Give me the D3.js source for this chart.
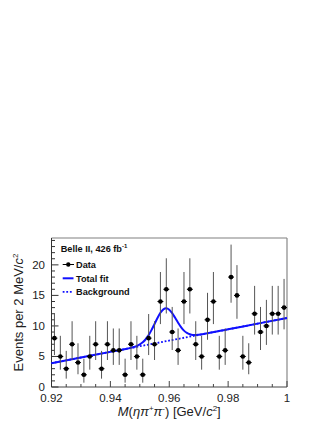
<!DOCTYPE html>
<html>
<head>
<meta charset="utf-8">
<script src="https://cdn.jsdelivr.net/npm/d3@7"></script>
<style>
  body { margin: 0; background: #fff; }
  svg { font-family: "Liberation Sans", Arial, Helvetica, sans-serif; }
</style>
</head>
<body>
<div id="chart"></div>
<script>
// histogram: 2 MeV bins from 0.92 to 1.00 GeV/c^2
var binStart = 0.92,
    binWidth = 0.002;
var counts = [8, 5, 3, 7, 4, 2, 5, 7, 3, 7,
              6, 6, 2, 7, 5, 2, 8, 7, 14, 16,
              9, 6, 14, 16, 7, 5, 11, 14, 5, 6,
              18, 15, 5, 4, 12, 9, 10, 12, 12, 13];

// Poisson (Garwood 68%) lower / upper limits, indexed by count
var poissonLo = [0, 0.173, 0.708, 1.367, 2.086, 2.840, 3.620, 4.419, 5.232, 6.057,
                 6.891, 7.734, 8.585, 9.441, 10.30, 11.17, 12.04, 12.92, 13.80];
var poissonHi = [1.841, 3.300, 4.638, 5.918, 7.163, 8.382, 9.584, 10.77, 11.95, 13.11,
                 14.27, 15.42, 16.56, 17.70, 18.83, 19.96, 21.08, 22.20, 23.32];

// fit curves
var fitX = [0.92, 0.93, 0.94, 0.946, 0.948, 0.949, 0.950, 0.951, 0.952, 0.953,
            0.954, 0.955, 0.956, 0.957, 0.958, 0.959, 0.960, 0.961, 0.962, 0.963,
            0.964, 0.965, 0.966, 0.967, 0.968, 0.969, 0.970, 0.972, 0.98, 0.99, 1.0];
var fitY = [3.90, 4.83, 5.75, 6.31, 6.55, 6.72, 6.97, 7.32, 7.82, 8.49,
            9.35, 10.32, 11.31, 12.15, 12.71, 12.89, 12.66, 12.09, 11.33, 10.53,
            9.80, 9.23, 8.85, 8.63, 8.53, 8.52, 8.57, 8.71, 9.45, 10.38, 11.30];
var bkgX = [0.92, 1.0];
var bkgY = [3.90, 11.30];

var xTicks = [0.92, 0.94, 0.96, 0.98, 1.0];
var xTickLabels = ["0.92", "0.94", "0.96", "0.98", "1"];
var yTicks = [0, 5, 10, 15, 20];

var W = 327, H = 423;
// plot frame (note: "top" is reserved on window)
var pL = 51.5, pR = 287, pT = 238, pB = 387;

var svg = d3.select("#chart").append("svg")
    .attr("width", W)
    .attr("height", H);

var x = d3.scaleLinear().domain([0.92, 1.0]).range([pL, pR]);
var y = d3.scaleLinear().domain([0, 24.4]).range([pB, pT]);

var blue = "#1010ff";

// frame: top and right in grey
svg.append("line").attr("x1", pL).attr("x2", pR).attr("y1", pT).attr("y2", pT)
    .style("stroke", "#aaa").style("stroke-width", 1.3);
svg.append("line").attr("x1", pR).attr("x2", pR).attr("y1", pT).attr("y2", pB)
    .style("stroke", "#888").style("stroke-width", 1.2);

// x axis with inward ticks
var xAxis = svg.append("g");
xAxis.append("line").attr("x1", pL).attr("x2", pR).attr("y1", pB).attr("y2", pB)
    .style("stroke", "#444").style("stroke-width", 1);
d3.range(0, 17).forEach(function(i) {
    var v = 0.92 + i * 0.005;
    var major = (i % 4 == 0);
    xAxis.append("line")
        .attr("x1", x(v)).attr("x2", x(v))
        .attr("y1", pB).attr("y2", pB - (major ? 6 : 3))
        .style("stroke", "#444").style("stroke-width", 1);
});
xAxis.selectAll("text.xt")
    .data(xTicks)
    .enter()
    .append("text")
    .attr("class", "xt")
    .attr("x", function(d) { return x(d); })
    .attr("y", 402)
    .attr("text-anchor", "middle")
    .style("font-size", "11.5px")
    .style("fill", "#222")
    .text(function(d, i) { return xTickLabels[i]; });

// y axis
var yAxis = svg.append("g");
yAxis.append("line").attr("x1", pL).attr("x2", pL).attr("y1", pT).attr("y2", pB)
    .style("stroke", "#333").style("stroke-width", 1);
d3.range(0, 25).forEach(function(v) {
    var major = (v % 5 == 0);
    yAxis.append("line")
        .attr("x1", pL).attr("x2", pL + (major ? 7 : 3.5))
        .attr("y1", y(v)).attr("y2", y(v))
        .style("stroke", "#333").style("stroke-width", 1);
});
yAxis.selectAll("text.yt")
    .data(yTicks)
    .enter()
    .append("text")
    .attr("class", "yt")
    .attr("x", 45)
    .attr("y", function(d) { return y(d) + 3.8; })
    .attr("text-anchor", "end")
    .style("font-size", "11.5px")
    .style("fill", "#222")
    .text(function(d) { return d; });

// axis titles
var xt = svg.append("text")
    .attr("x", (pL + pR) / 2)
    .attr("y", 416)
    .attr("text-anchor", "middle")
    .style("font-size", "13px")
    .style("fill", "#222");
xt.append("tspan").style("font-style", "italic").text("M");
xt.append("tspan").text("(");
xt.append("tspan").style("font-style", "italic").text("ηπ");
xt.append("tspan").attr("dy", -5).style("font-size", "8px").text("+");
xt.append("tspan").attr("dy", 5).style("font-style", "italic").text("π");
xt.append("tspan").attr("dy", -5).style("font-size", "8px").text("-");
xt.append("tspan").attr("dy", 5).text(") [GeV/");
xt.append("tspan").style("font-style", "italic").text("c");
xt.append("tspan").attr("dy", -5).style("font-size", "8px").text("2");
xt.append("tspan").attr("dy", 5).text("]");

var yt = svg.append("text")
    .attr("transform", "translate(23," + ((pT + pB) / 2) + ") rotate(-90)")
    .attr("text-anchor", "middle")
    .style("font-size", "13px")
    .style("fill", "#222");
yt.append("tspan").text("Events per 2 MeV/");
yt.append("tspan").style("font-style", "italic").text("c");
yt.append("tspan").attr("dy", -5).style("font-size", "8px").text("2");

// fit curves
var line = d3.line()
    .x(function(d) { return x(d[0]); })
    .y(function(d) { return y(d[1]); });

svg.append("path")
    .datum(d3.zip(bkgX, bkgY))
    .attr("d", line)
    .style("fill", "none")
    .style("stroke", blue)
    .style("stroke-width", 1.8)
    .style("stroke-dasharray", "1.8,1.8");

svg.append("path")
    .datum(d3.zip(fitX, fitY))
    .attr("d", line.curve(d3.curveMonotoneX))
    .style("fill", "none")
    .style("stroke", blue)
    .style("stroke-width", 2);

// data points with Poisson error bars
var data = counts.map(function(n, i) {
    return { x: binStart + (i + 0.5) * binWidth, n: n, lo: poissonLo[n], hi: poissonHi[n] };
});

var pts = svg.selectAll("g.pt")
    .data(data)
    .enter()
    .append("g")
    .attr("class", "pt");

pts.append("line")
    .attr("x1", function(d) { return x(d.x); })
    .attr("x2", function(d) { return x(d.x); })
    .attr("y1", function(d) { return y(d.lo); })
    .attr("y2", function(d) { return y(d.hi); })
    .style("stroke", "#555")
    .style("stroke-width", 1);

pts.append("line")
    .attr("x1", function(d) { return x(d.x - binWidth / 2); })
    .attr("x2", function(d) { return x(d.x + binWidth / 2); })
    .attr("y1", function(d) { return y(d.n); })
    .attr("y2", function(d) { return y(d.n); })
    .style("stroke", "#000")
    .style("stroke-width", 1);

pts.append("circle")
    .attr("cx", function(d) { return x(d.x); })
    .attr("cy", function(d) { return y(d.n); })
    .attr("r", 2.3)
    .style("fill", "#000");

// legend
var lg = svg.append("g").style("font-weight", "bold").style("font-size", "9.2px").style("fill", "#111");
var title = lg.append("text").attr("x", 60.7).attr("y", 251.7);
title.append("tspan").text("Belle II, 426 fb");
title.append("tspan").attr("dy", -3.5).style("font-size", "6px").text("-1");

lg.append("line").attr("x1", 62.7).attr("x2", 74).attr("y1", 264.5).attr("y2", 264.5)
    .style("stroke", "#000").style("stroke-width", 1);
lg.append("circle").attr("cx", 68.3).attr("cy", 264.5).attr("r", 2.2).style("fill", "#000");
lg.append("text").attr("x", 76).attr("y", 267.7).text("Data");

lg.append("line").attr("x1", 62.7).attr("x2", 73.5).attr("y1", 278.3).attr("y2", 278.3)
    .style("stroke", blue).style("stroke-width", 2);
lg.append("text").attr("x", 76).attr("y", 281.7).text("Total fit");

lg.append("line").attr("x1", 62.7).attr("x2", 73.5).attr("y1", 291.8).attr("y2", 291.8)
    .style("stroke", blue).style("stroke-width", 1.8).style("stroke-dasharray", "1.8,1.8");
lg.append("text").attr("x", 76).attr("y", 295.2).text("Background");
</script>
</body>
</html>
